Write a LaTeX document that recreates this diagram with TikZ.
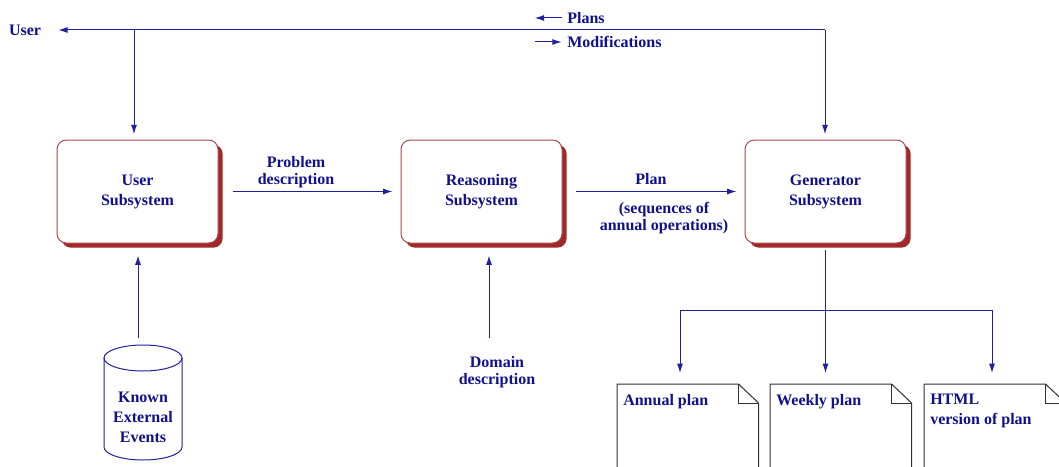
\documentclass[tikz,border=0pt]{standalone}
\usepackage{fontspec}
\setmainfont{Liberation Serif}
\definecolor{sysred}{HTML}{A02828}
\definecolor{sysedge}{HTML}{A84848}
\definecolor{sysblue}{HTML}{10108C}
\definecolor{linkblue}{HTML}{2020A0}
\definecolor{docgray}{HTML}{303030}
\usetikzlibrary{shapes.geometric,arrows.meta,positioning,shadows}

\begin{document}
\begin{tikzpicture}[
  x=0.75pt, y=-0.75pt,
  lbl/.style={font=\fontsize{12}{15}\selectfont\bfseries, text=sysblue,
    align=center, inner sep=0pt},
  subsys/.style={lbl, draw=sysedge, fill=white, line width=0.75pt,
    rounded corners=7pt, minimum width=120.75pt, minimum height=77.25pt,
    drop shadow={shadow xshift=3.5pt, shadow yshift=-3.5pt,
      fill=sysred, opacity=1}},
  arr/.style={-{Latex[length=7pt,width=4.5pt]}, linkblue, line width=0.75pt},
  doc/.style={minimum width=105.75pt, minimum height=90pt, inner sep=0pt},
  docline/.style={draw=docgray, line width=0.75pt},
  cylline/.style={draw=linkblue, line width=0.75pt}
]
  \clip (0,0) rectangle (1059,467);

  % Subsystems
  \node[subsys] (usersys) at (137.5,191.5) {User\\Subsystem};
  \node[subsys] (reasys) at (481.5,191.5) {Reasoning\\Subsystem};
  \node[subsys] (gensys) at (825.5,191.5) {Generator\\Subsystem};

  % User line at the top
  \node[lbl] (user) at (25,30) {User};
  \coordinate (tapuser) at (134,30);
  \coordinate (corner) at (825,30);
  \draw[arr] (corner) -- ([xshift=12.75pt]user.east);
  \draw[arr, shorten >=4pt] (tapuser) -- (tapuser |- usersys.north);
  \draw[arr, shorten >=4pt] (corner) -- (corner |- gensys.north);

  \node[lbl, anchor=west] (plans) at (567,18) {Plans};
  \node[lbl, anchor=west] (mods) at (567,42) {Modifications};
  \draw[arr] ([xshift=-4pt]plans.west) -- ++(-27,0);
  \draw[arr] ([xshift=-24pt]mods.west) -- ([xshift=-4pt]mods.west);

  % Between subsystems
  \draw[arr] ([xshift=10.5pt]usersys.east) -- ([xshift=-6pt]reasys.west);
  \node[lbl, font=\fontsize{12}{12.75}\selectfont\bfseries] (probdesc) at (296,172) {Problem\\description};
  \draw[arr] ([xshift=10pt]reasys.east) -- ([xshift=-6pt]gensys.west);
  \node[lbl] (plan) at (651,179) {Plan};
  \node[lbl, font=\fontsize{12}{12.75}\selectfont\bfseries] (planseq) at (664,218) {(sequences of\\annual operations)};

  % Inputs from below
  \draw[cylline] (104,358) -- (104,447)
    arc[start angle=180, end angle=0, x radius=39, y radius=13] -- (182,358);
  \draw[cylline] (143,358) ellipse[x radius=39, y radius=13];
  \node[lbl] (events) at (143,417) {Known\\External\\Events};
  \coordinate (evtop) at (138,338);
  \draw[arr, shorten >=9pt] (evtop) -- (evtop |- usersys.south);

  \node[lbl, font=\fontsize{12}{12.75}\selectfont\bfseries] (domain) at (497,372) {Domain\\description};
  \coordinate (domtop) at (489,338);
  \draw[arr, shorten >=9pt] (domtop) -- (domtop |- reasys.south);

  % Documents
  \node[doc, anchor=north west] (annual) at (617,384) {};
  \node[doc, anchor=north west] (weekly) at (770,384) {};
  \node[doc, anchor=north west] (html) at (924,384) {};
  \foreach \d in {annual,weekly,html}{
    \draw[docline] (\d.south west) -- (\d.north west)
      -- ([xshift=-15pt]\d.north east) -- ([yshift=-14.25pt]\d.north east)
      -- (\d.south east);
    \draw[docline] ([xshift=-15pt]\d.north east) |- ([yshift=-14.25pt]\d.north east);
  }
  \node[lbl, anchor=north west] at ([xshift=4.5pt,yshift=-7.5pt]annual.north west) {Annual plan};
  \node[lbl, anchor=north west] at ([xshift=4.5pt,yshift=-7.5pt]weekly.north west) {Weekly plan};
  \node[lbl, anchor=north west, align=left] at ([xshift=4.5pt,yshift=-7.5pt]html.north west) {HTML\\version of plan};

  % Generator outputs
  \coordinate (split) at (825,310);
  \coordinate (splitl) at (680,310);
  \coordinate (splitr) at (992,310);
  \draw[arr, shorten >=8.25pt] ([yshift=-5pt]gensys.south) -- (gensys.south |- weekly.north);
  \draw[arr, shorten >=8.25pt] (splitl) -- (splitl |- annual.north);
  \draw[arr, shorten >=8.25pt] (splitr) -- (splitr |- html.north);
  \draw[linkblue, line width=0.75pt] (splitl) -- (splitr);
\end{tikzpicture}
\end{document}
